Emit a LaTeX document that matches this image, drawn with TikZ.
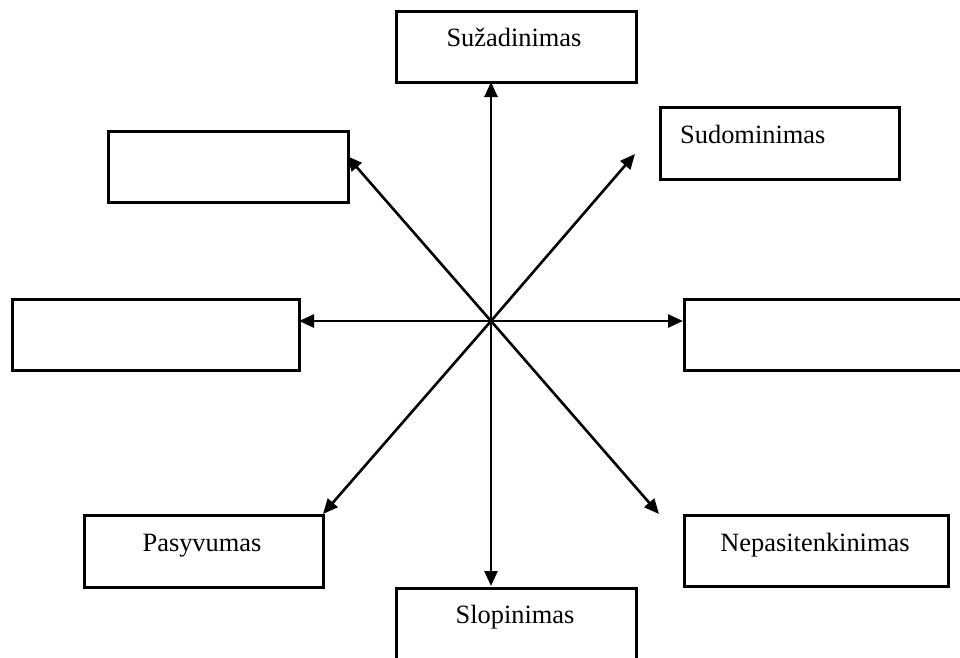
\documentclass[tikz,border=0pt]{standalone}
\usepackage{fontspec}
\setmainfont{Liberation Serif}
\usetikzlibrary{arrows.meta}
\begin{document}
\begin{tikzpicture}[x=1pt,y=-1pt,
  box/.style={draw=black,line width=2.6pt,fill=white,rectangle,inner sep=0pt,anchor=north west},
  lbl/.style={font=\fontsize{26.4}{30}\selectfont,inner sep=0pt,anchor=base},
  ray/.style={line width=2.6pt,-{Triangle[length=15pt,width=13pt]}}]
\useasboundingbox (0,0) rectangle (960,657);
% boxes
\node[box,minimum width=240pt,minimum height=71pt] (top) at (395,10) {};
\node[box,minimum width=240pt,minimum height=71pt] (ul) at (107,130) {};
\node[box,minimum width=239pt,minimum height=72pt] (ur) at (659,106) {};
\node[box,minimum width=287pt,minimum height=71pt] (lt) at (11,298) {};
\node[box,minimum width=300pt,minimum height=71pt] (rt) at (683,298) {};
\node[box,minimum width=239pt,minimum height=72pt] (ll) at (83,514) {};
\node[box,minimum width=264pt,minimum height=71pt] (lr) at (683,514) {};
\node[box,minimum width=240pt,minimum height=72pt] (bt) at (395,587) {};
% labels
\node[lbl] (ttop) at (514,46) {Sužadinimas};
\node[lbl,anchor=base west] (tur) at (680,143) {Sudominimas};
\node[lbl] (tll) at (202,551) {Pasyvumas};
\node[lbl] (tlr) at (815,551) {Nepasitenkinimas};
\node[lbl] (tbt) at (515,623) {Slopinimas};
% arrows from the centre
\coordinate (c) at (491,321);
\coordinate (pN) at (491,82);
\coordinate (pS) at (491,586);
\coordinate (pW) at (299,321);
\coordinate (pE) at (683,321);
\coordinate (pNW) at (347,156);
\coordinate (pNE) at (635,154);
\coordinate (pSW) at (323,514);
\coordinate (pSE) at (659,514);
\foreach \t in {pN,pS,pW,pE,pNW,pNE,pSW,pSE}
  \draw[ray] (c) -- (\t);
\end{tikzpicture}
\end{document}
